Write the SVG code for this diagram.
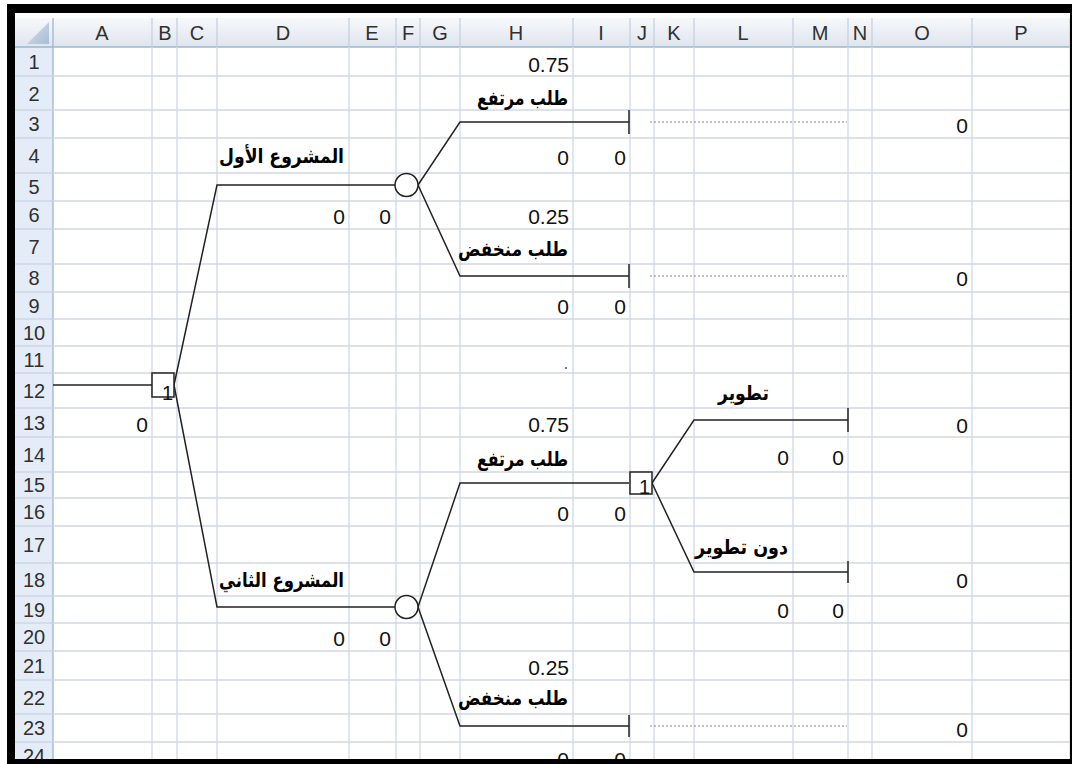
<svg xmlns="http://www.w3.org/2000/svg" width="1072" height="764" viewBox="0 0 1072 764">
<defs>
<linearGradient id="hdr" x1="0" y1="0" x2="0" y2="1"><stop offset="0" stop-color="#f6f8fb"/><stop offset="1" stop-color="#dfe5ee"/></linearGradient>
<linearGradient id="tri" x1="0" y1="0" x2="1" y2="1"><stop offset="0" stop-color="#d6e0ec"/><stop offset="1" stop-color="#a9bdd4"/></linearGradient>
</defs>
<style>
.grid line{stroke:#d0d7e5;stroke-width:1.3}
.hd{font-family:"Liberation Sans",Arial,sans-serif;font-size:20px;fill:#303030;text-anchor:middle}
.v{font-family:"Liberation Sans",Arial,sans-serif;font-size:21px;fill:#111;text-anchor:end}
.ar{font-family:"DejaVu Sans","Liberation Sans",sans-serif;font-size:20px;font-weight:bold;fill:#000;text-anchor:end}
.ln{stroke:#222;stroke-width:1.5;fill:none}
.dot{stroke:#888;stroke-width:1.2;stroke-dasharray:2 2;fill:none}
.nd{fill:#fff;stroke:#222;stroke-width:1.5}
</style>
<rect x="0" y="0" width="1072" height="764" fill="#fff"/>
<!-- headers -->
<g id="headers">
<rect x="15" y="18" width="1055" height="29" fill="url(#hdr)"/>
<rect x="15" y="47" width="38" height="712" fill="#e4ecf7"/>
<polygon points="49,22 49,44 27,44" fill="url(#tri)"/>
<line x1="15" y1="47" x2="1070" y2="47" stroke="#9eb6ce" stroke-width="1.3"/>
<line x1="53" y1="18" x2="53" y2="759" stroke="#9eb6ce" stroke-width="1.3"/>
<g stroke="#c2cedd" stroke-width="1.2">
<line x1="152" y1="18" x2="152" y2="47"/><line x1="177" y1="18" x2="177" y2="47"/><line x1="217" y1="18" x2="217" y2="47"/><line x1="349" y1="18" x2="349" y2="47"/><line x1="396" y1="18" x2="396" y2="47"/><line x1="420" y1="18" x2="420" y2="47"/><line x1="460" y1="18" x2="460" y2="47"/><line x1="573" y1="18" x2="573" y2="47"/><line x1="630" y1="18" x2="630" y2="47"/><line x1="654" y1="18" x2="654" y2="47"/><line x1="694" y1="18" x2="694" y2="47"/><line x1="793" y1="18" x2="793" y2="47"/><line x1="848" y1="18" x2="848" y2="47"/><line x1="872" y1="18" x2="872" y2="47"/><line x1="972" y1="18" x2="972" y2="47"/><line x1="1070" y1="18" x2="1070" y2="47"/>
<line x1="15" y1="76" x2="53" y2="76"/><line x1="15" y1="110" x2="53" y2="110"/><line x1="15" y1="138" x2="53" y2="138"/><line x1="15" y1="173" x2="53" y2="173"/><line x1="15" y1="201" x2="53" y2="201"/><line x1="15" y1="229" x2="53" y2="229"/><line x1="15" y1="264" x2="53" y2="264"/><line x1="15" y1="292" x2="53" y2="292"/><line x1="15" y1="319" x2="53" y2="319"/><line x1="15" y1="346" x2="53" y2="346"/><line x1="15" y1="373" x2="53" y2="373"/><line x1="15" y1="408" x2="53" y2="408"/><line x1="15" y1="437" x2="53" y2="437"/><line x1="15" y1="472" x2="53" y2="472"/><line x1="15" y1="498" x2="53" y2="498"/><line x1="15" y1="526" x2="53" y2="526"/><line x1="15" y1="563" x2="53" y2="563"/><line x1="15" y1="596" x2="53" y2="596"/><line x1="15" y1="623" x2="53" y2="623"/><line x1="15" y1="651" x2="53" y2="651"/><line x1="15" y1="680" x2="53" y2="680"/><line x1="15" y1="714" x2="53" y2="714"/><line x1="15" y1="742" x2="53" y2="742"/>
</g>
<text class="hd" x="102" y="40">A</text><text class="hd" x="165" y="40">B</text><text class="hd" x="197" y="40">C</text><text class="hd" x="283" y="40">D</text><text class="hd" x="372" y="40">E</text><text class="hd" x="408" y="40">F</text><text class="hd" x="440" y="40">G</text><text class="hd" x="516" y="40">H</text><text class="hd" x="601" y="40">I</text><text class="hd" x="642" y="40">J</text><text class="hd" x="674" y="40">K</text><text class="hd" x="743" y="40">L</text><text class="hd" x="820" y="40">M</text><text class="hd" x="860" y="40">N</text><text class="hd" x="922" y="40">O</text><text class="hd" x="1021" y="40">P</text>
<text class="hd" x="34" y="69">1</text><text class="hd" x="34" y="101">2</text><text class="hd" x="34" y="131">3</text><text class="hd" x="34" y="163">4</text><text class="hd" x="34" y="194">5</text><text class="hd" x="34" y="222">6</text><text class="hd" x="34" y="254">7</text><text class="hd" x="34" y="285">8</text><text class="hd" x="34" y="313">9</text><text class="hd" x="34" y="340">10</text><text class="hd" x="34" y="367">11</text><text class="hd" x="34" y="398">12</text><text class="hd" x="34" y="430">13</text><text class="hd" x="34" y="462">14</text><text class="hd" x="34" y="492">15</text><text class="hd" x="34" y="519">16</text><text class="hd" x="34" y="552">17</text><text class="hd" x="34" y="587">18</text><text class="hd" x="34" y="617">19</text><text class="hd" x="34" y="644">20</text><text class="hd" x="34" y="673">21</text><text class="hd" x="34" y="705">22</text><text class="hd" x="34" y="735">23</text><text class="hd" x="34" y="763">24</text>
</g>
<!-- grid -->
<g class="grid">
<line x1="152" y1="47" x2="152" y2="759"/><line x1="177" y1="47" x2="177" y2="759"/><line x1="217" y1="47" x2="217" y2="759"/><line x1="349" y1="47" x2="349" y2="759"/><line x1="396" y1="47" x2="396" y2="759"/><line x1="420" y1="47" x2="420" y2="759"/><line x1="460" y1="47" x2="460" y2="759"/><line x1="573" y1="47" x2="573" y2="759"/><line x1="630" y1="47" x2="630" y2="759"/><line x1="654" y1="47" x2="654" y2="759"/><line x1="694" y1="47" x2="694" y2="759"/><line x1="793" y1="47" x2="793" y2="759"/><line x1="848" y1="47" x2="848" y2="759"/><line x1="872" y1="47" x2="872" y2="759"/><line x1="972" y1="47" x2="972" y2="759"/><line x1="1070" y1="47" x2="1070" y2="759"/>
<line x1="53" y1="76" x2="1070" y2="76"/><line x1="53" y1="110" x2="1070" y2="110"/><line x1="53" y1="138" x2="1070" y2="138"/><line x1="53" y1="173" x2="1070" y2="173"/><line x1="53" y1="201" x2="1070" y2="201"/><line x1="53" y1="229" x2="1070" y2="229"/><line x1="53" y1="264" x2="1070" y2="264"/><line x1="53" y1="292" x2="1070" y2="292"/><line x1="53" y1="319" x2="1070" y2="319"/><line x1="53" y1="346" x2="1070" y2="346"/><line x1="53" y1="373" x2="1070" y2="373"/><line x1="53" y1="408" x2="1070" y2="408"/><line x1="53" y1="437" x2="1070" y2="437"/><line x1="53" y1="472" x2="1070" y2="472"/><line x1="53" y1="498" x2="1070" y2="498"/><line x1="53" y1="526" x2="1070" y2="526"/><line x1="53" y1="563" x2="1070" y2="563"/><line x1="53" y1="596" x2="1070" y2="596"/><line x1="53" y1="623" x2="1070" y2="623"/><line x1="53" y1="651" x2="1070" y2="651"/><line x1="53" y1="680" x2="1070" y2="680"/><line x1="53" y1="714" x2="1070" y2="714"/><line x1="53" y1="742" x2="1070" y2="742"/>
</g>
<!-- connectors -->
<g id="connectors">
<polyline class="ln" points="53,385 152,385"/>
<polyline class="ln" points="174,385 217,185 395,185"/>
<polyline class="ln" points="174,385 217,607 395,607"/>
<polyline class="ln" points="418,185 460,122 629,122"/>
<polyline class="ln" points="418,185 460,276 629,276"/>
<polyline class="ln" points="418,607 460,483 629,483"/>
<polyline class="ln" points="418,607 460,726 629,726"/>
<polyline class="ln" points="652,483 694,420 848,420"/>
<polyline class="ln" points="652,483 694,572 848,572"/>
<line class="dot" x1="650" y1="122" x2="847" y2="122"/>
<line class="dot" x1="650" y1="276" x2="847" y2="276"/>
<line class="dot" x1="650" y1="726" x2="847" y2="726"/>
</g>
<!-- nodes -->
<g id="decision1"><rect class="nd" x="152" y="373" width="22" height="24"/><text class="v" x="173" y="400" style="font-size:20px">1</text><text class="v" x="148" y="432">0</text></g>
<g id="project1"><text class="ar" x="344" y="163" textLength="125" lengthAdjust="spacingAndGlyphs">المشروع الأول</text><text class="v" x="345" y="224">0</text><text class="v" x="391" y="224">0</text></g>
<g id="chance1"><circle class="nd" cx="406.5" cy="185" r="11.5"/></g>
<g id="p1-high"><text class="v" x="569" y="72">0.75</text><text class="ar" x="568" y="105" textLength="91" lengthAdjust="spacingAndGlyphs">طلب مرتفع</text><text class="v" x="569" y="165">0</text><text class="v" x="626" y="165">0</text><line class="ln" x1="629" y1="110" x2="629" y2="134"/><text class="v" x="968" y="133">0</text></g>
<g id="p1-low"><text class="v" x="569" y="224">0.25</text><text class="ar" x="568" y="256" textLength="110" lengthAdjust="spacingAndGlyphs">طلب منخفض</text><text class="v" x="569" y="314">0</text><text class="v" x="626" y="314">0</text><line class="ln" x1="629" y1="264" x2="629" y2="288"/><text class="v" x="968" y="286">0</text></g>
<g id="stray"><circle cx="566" cy="368" r="1" fill="#444"/></g>
<g id="project2"><text class="ar" x="344" y="587" textLength="125" lengthAdjust="spacingAndGlyphs">المشروع الثاني</text><text class="v" x="345" y="646">0</text><text class="v" x="391" y="646">0</text></g>
<g id="chance2"><circle class="nd" cx="406.5" cy="607" r="11.5"/></g>
<g id="p2-high"><text class="v" x="569" y="432">0.75</text><text class="ar" x="568" y="466" textLength="91" lengthAdjust="spacingAndGlyphs">طلب مرتفع</text><text class="v" x="569" y="521">0</text><text class="v" x="626" y="521">0</text></g>
<g id="decision2"><rect class="nd" x="630" y="472" width="22" height="22"/><text class="v" x="650" y="494" style="font-size:20px">1</text></g>
<g id="develop"><text class="ar" x="769" y="400" textLength="51" lengthAdjust="spacingAndGlyphs">تطوير</text><line class="ln" x1="848" y1="408" x2="848" y2="432"/><text class="v" x="789" y="465">0</text><text class="v" x="844" y="465">0</text><text class="v" x="968" y="433">0</text></g>
<g id="nodevelop"><text class="ar" x="788" y="554" textLength="93" lengthAdjust="spacingAndGlyphs">دون تطوير</text><line class="ln" x1="848" y1="561" x2="848" y2="583"/><text class="v" x="789" y="618">0</text><text class="v" x="844" y="618">0</text><text class="v" x="968" y="588">0</text></g>
<g id="p2-low"><text class="v" x="569" y="675">0.25</text><text class="ar" x="568" y="705" textLength="110" lengthAdjust="spacingAndGlyphs">طلب منخفض</text><line class="ln" x1="629" y1="715" x2="629" y2="737"/><text class="v" x="569" y="767">0</text><text class="v" x="626" y="767">0</text><text class="v" x="968" y="737">0</text></g>
<!-- frame -->
<g id="frame" fill="#000">
<rect x="7" y="4" width="1065" height="9"/>
<rect x="7" y="4" width="8" height="760"/>
<rect x="7" y="759" width="1065" height="5"/>
<rect x="1070" y="4" width="2" height="760"/>
</g>
</svg>
